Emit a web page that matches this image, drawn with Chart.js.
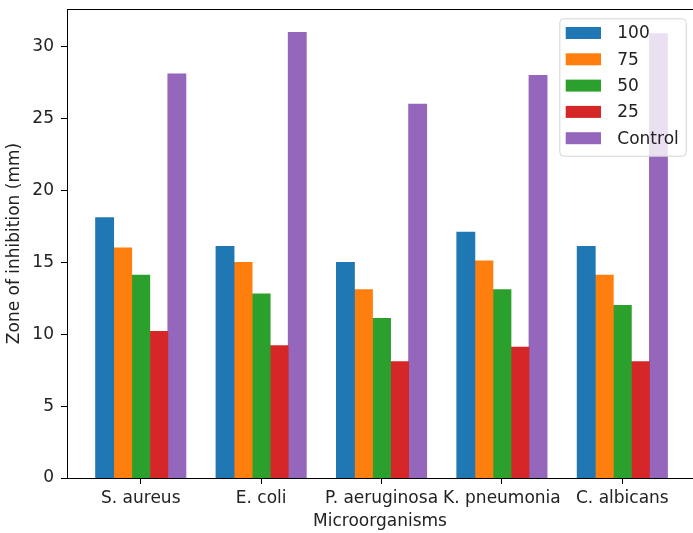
<!DOCTYPE html>
<html>
<head>
<meta charset="utf-8">
<script src="https://cdn.jsdelivr.net/npm/chart.js@4.4.1/dist/chart.umd.min.js"></script>
<style>
  html, body { margin: 0; padding: 0; background: #fff; overflow: hidden; }
  canvas { display: block; }
</style>
</head>
<body>
<canvas id="c" width="693" height="533"></canvas>
<script>
// Zone of inhibition per microorganism and concentration
const categories = ['S. aureus', 'E. coli', 'P. aeruginosa', 'K. pneumonia', 'C. albicans'];
const seriesLabels = ['100', '75', '50', '25', 'Control'];
const values100 = [18.1, 16.1, 15.0, 17.1, 16.1];
const values75 = [16.0, 15.0, 13.1, 15.1, 14.1];
const values50 = [14.1, 12.8, 11.1, 13.1, 12.0];
const values25 = [10.2, 9.2, 8.1, 9.1, 8.1];
const valuesControl = [28.1, 31.0, 26.0, 28.0, 30.9];
const yTicks = [0, 5, 10, 15, 20, 25, 30];

const seriesValues = [values100, values75, values50, values25, valuesControl];
const colors = ['#1f77b4', '#ff7f0e', '#2ca02c', '#d62728', '#9467bd'];

const FONT = 'DejaVu Sans';
const TEXT = '#222222';

const datasets = seriesLabels.map((label, s) => ({
  label,
  data: seriesValues[s].map((v, i) => ({ x: i, y: v })),
  backgroundColor: colors[s],
  borderWidth: 0,
  inflateAmount: 0.4,
  categoryPercentage: 0.75,
  barPercentage: 1.0
}));

// Top spine plus a framed legend drawn over the bars
const framePlugin = {
  id: 'framePlugin',
  afterDatasetsDraw(chart) {
    const { ctx, chartArea } = chart;
    ctx.save();
    ctx.strokeStyle = '#000';
    ctx.lineWidth = 1;
    ctx.beginPath();
    ctx.moveTo(chartArea.left, chartArea.top + 0.5);
    ctx.lineTo(chartArea.right, chartArea.top + 0.5);
    ctx.stroke();

    const ds = chart.data.datasets;
    const boxW = 126.4, boxH = 137.4, rowH = 26.3;
    const x0 = chartArea.right - 7.3 - boxW;
    const y0 = chartArea.top + 9.3;
    ctx.beginPath();
    ctx.roundRect(x0 + 0.5, y0 + 0.5, boxW, boxH, 4);
    ctx.fillStyle = 'rgba(255,255,255,0.8)';
    ctx.fill();
    ctx.strokeStyle = '#d4d4d4';
    ctx.stroke();

    ctx.font = '17px "' + FONT + '"';
    ctx.textBaseline = 'middle';
    ctx.textAlign = 'left';
    ds.forEach((d, i) => {
      const cy = y0 + 14.7 + i * rowH;
      ctx.fillStyle = d.backgroundColor;
      ctx.fillRect(x0 + 6.4, cy - 6, 35.3, 12);
      ctx.fillStyle = TEXT;
      ctx.fillText(d.label, x0 + 58, cy + 1);
    });
    ctx.restore();
  }
};

new Chart(document.getElementById('c'), {
  type: 'bar',
  data: { datasets },
  plugins: [framePlugin],
  options: {
    responsive: false,
    animation: false,
    devicePixelRatio: 1,
    layout: { padding: { left: 0, top: 9, right: 0, bottom: 0 } },
    plugins: {
      legend: { display: false },
      tooltip: { enabled: false }
    },
    scales: {
      x: {
        type: 'linear',
        offset: false,
        min: -0.6125,
        max: 4.587,
        afterBuildTicks: (axis) => { axis.ticks = categories.map((_, i) => ({ value: i })); },
        afterFit: (axis) => {
          axis.height = 55;
          axis.paddingLeft = 0;
          axis.paddingRight = 0;
        },
        grid: { display: true, drawOnChartArea: false, drawTicks: true, tickLength: 6, color: '#000', offset: false },
        border: { display: true, color: '#000', width: 1 },
        ticks: {
          autoSkip: false,
          maxRotation: 0,
          minRotation: 0,
          padding: 4.5,
          color: TEXT,
          font: { family: FONT, size: 17 },
          callback: (v) => categories[v]
        },
        title: {
          display: true,
          text: 'Microorganisms',
          color: TEXT,
          font: { family: FONT, size: 17 },
          padding: { top: 0, bottom: 1 }
        }
      },
      y: {
        min: 0,
        max: 32.62,
        afterBuildTicks: (axis) => { axis.ticks = yTicks.map(v => ({ value: v })); },
        afterFit: (axis) => {
          axis.width = 67;
          axis.paddingTop = 0;
          axis.paddingBottom = 0;
        },
        grid: { display: true, drawOnChartArea: false, drawTicks: true, tickLength: 6, color: '#000' },
        border: { display: true, color: '#000', width: 1 },
        ticks: {
          padding: 7,
          color: TEXT,
          font: { family: FONT, size: 17 }
        },
        title: {
          display: true,
          text: 'Zone of inhibition (mm)',
          color: TEXT,
          font: { family: FONT, size: 17 },
          padding: { top: 4, bottom: 0 }
        }
      }
    }
  }
});
</script>
</body>
</html>
